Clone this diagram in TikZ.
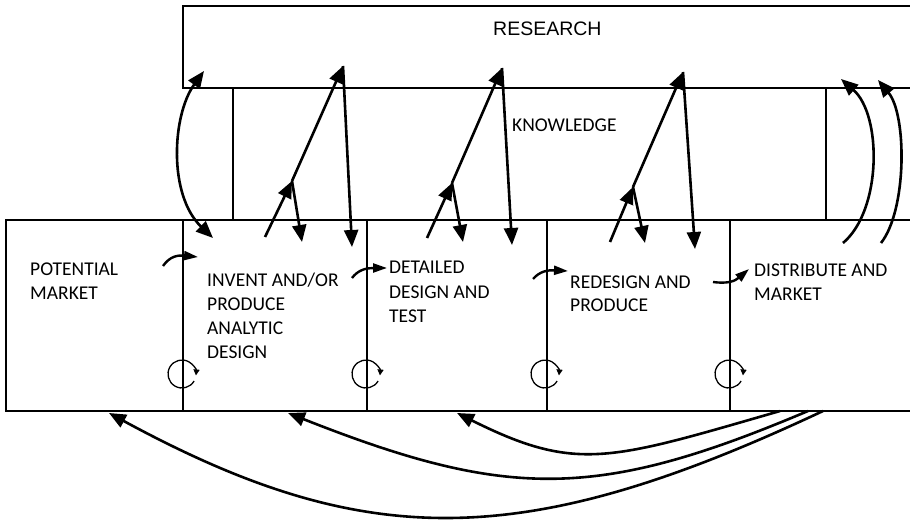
\documentclass[tikz,border=0pt]{standalone}
\usepackage{fontspec}
\setmainfont{Carlito}
\newfontfamily\headfont{Liberation Sans}
\usetikzlibrary{arrows.meta}
\begin{document}
\begin{tikzpicture}[x=1pt,y=-1pt,
  frame/.style={line width=1.5pt},
  divider/.style={line width=1.2pt},
  link/.style={line width=2.6pt,-{Triangle[length=17pt,width=14pt]}},
  twoway/.style={line width=2.6pt,{Triangle[length=17pt,width=14pt]}-{Triangle[length=17pt,width=14pt]}},
  feed/.style={line width=2.4pt,-{Triangle[length=14pt,width=9pt]}},
  loopback/.style={line width=1.3pt,-{Triangle[length=6pt,width=6pt]}},
  lbl/.style={anchor=base west,inner sep=0pt,align=left,font=\fontsize{19.5}{24}\selectfont},
]
\useasboundingbox (0,0) rectangle (910,521);

% research band, open to the right
\draw[frame] (910,6) -- (183,6) -- (183,88) -- (910,88);
% knowledge box
\draw[divider] (233,88) -- (233,220);
\draw[divider] (826,88) -- (826,220);
% chain of design stages
\draw[frame] (910,220) -- (6,220) -- (6,411) -- (910,411);
\foreach \x in {183,367,547,730}
  \draw[divider] (\x,220) -- (\x,411);

% texts (multi-line labels sit on the baseline of their last line)
\node[anchor=base west,inner sep=0pt,font=\headfont\fontsize{19.5}{24}\selectfont] (research) at (493,36) {RESEARCH};
\node[lbl] (knowledge) at (512,132) {KNOWLEDGE};
\node[lbl] (market) at (30,299) {POTENTIAL\\MARKET};
\node[lbl] (invent) at (207,358) {INVENT AND/OR\\PRODUCE\\ANALYTIC\\DESIGN};
\node[lbl] (detail) at (389,322) {DETAILED\\DESIGN AND\\TEST};
\node[lbl] (redesign) at (570,312) {REDESIGN AND\\PRODUCE};
\node[lbl] (distribute) at (754,301) {DISTRIBUTE AND\\MARKET};

% links through knowledge to research, one group per stage
\coordinate (s1) at (265,237); \coordinate (k1) at (292,181);
\coordinate (r1) at (343,66);  \coordinate (d1) at (352,247); \coordinate (e1) at (302,242);
\coordinate (s2) at (427,238); \coordinate (k2) at (452,183);
\coordinate (r2) at (502,68);  \coordinate (d2) at (512,245); \coordinate (e2) at (463,242);
\coordinate (s3) at (610,242); \coordinate (k3) at (633,187);
\coordinate (r3) at (683,72);  \coordinate (d3) at (695,249); \coordinate (e3) at (645,243);
\foreach \i in {1,2,3}{
  \draw[link] (s\i) -- (k\i);
  \draw[link] (k\i) -- (r\i);
  \draw[link] (r\i) -- (d\i);
  \draw[link] (k\i) -- (e\i);
}

% research <-> invent
\coordinate (ra) at (204,71);
\coordinate (ia) at (213,238);
\draw[twoway] (ra) .. controls (172,115) and (168,195) .. (ia);

% market back to research
\coordinate (m1) at (843,243); \coordinate (t1) at (841,79);
\coordinate (m2) at (881,243); \coordinate (t2) at (878,80);
\draw[link] (m1) .. controls (882,210) and (882,115) .. (t1);
\draw[link] (m2) .. controls (907,210) and (907,115) .. (t2);

% forward chain
\coordinate (f1a) at (163,266); \coordinate (f1b) at (198,257);
\coordinate (f2a) at (352,278); \coordinate (f2b) at (387,268);
\coordinate (f3a) at (533,279); \coordinate (f3b) at (568,271);
\coordinate (f4a) at (713,282); \coordinate (f4b) at (749,269);
\draw[feed] (f1a) .. controls (170,256) and (178,255) .. (f1b);
\draw[feed] (f2a) .. controls (358,270) and (366,268) .. (f2b);
\draw[feed] (f3a) .. controls (540,271) and (548,270) .. (f3b);
\draw[feed] (f4a) .. controls (728,284) and (735,281) .. (f4b);

% feedback loops on each stage boundary
\foreach \x in {182,366,545,729}
  \draw[loopback] (\x,374) ++(30:14) arc[start angle=30,end angle=366,radius=14];

% feedback from the market to earlier stages
\coordinate (b0) at (780,411); \coordinate (b1) at (808,411); \coordinate (b2) at (823,411);
\coordinate (g1) at (457,413); \coordinate (g2) at (288,413); \coordinate (g3) at (109,413);
\draw[link] (b0) .. controls (610,460) and (577,473) .. (g1);
\draw[link] (b1) .. controls (598,500) and (508,500) .. (g2);
\draw[link] (b2) .. controls (523,552) and (365,552) .. (g3);
\end{tikzpicture}
\end{document}
